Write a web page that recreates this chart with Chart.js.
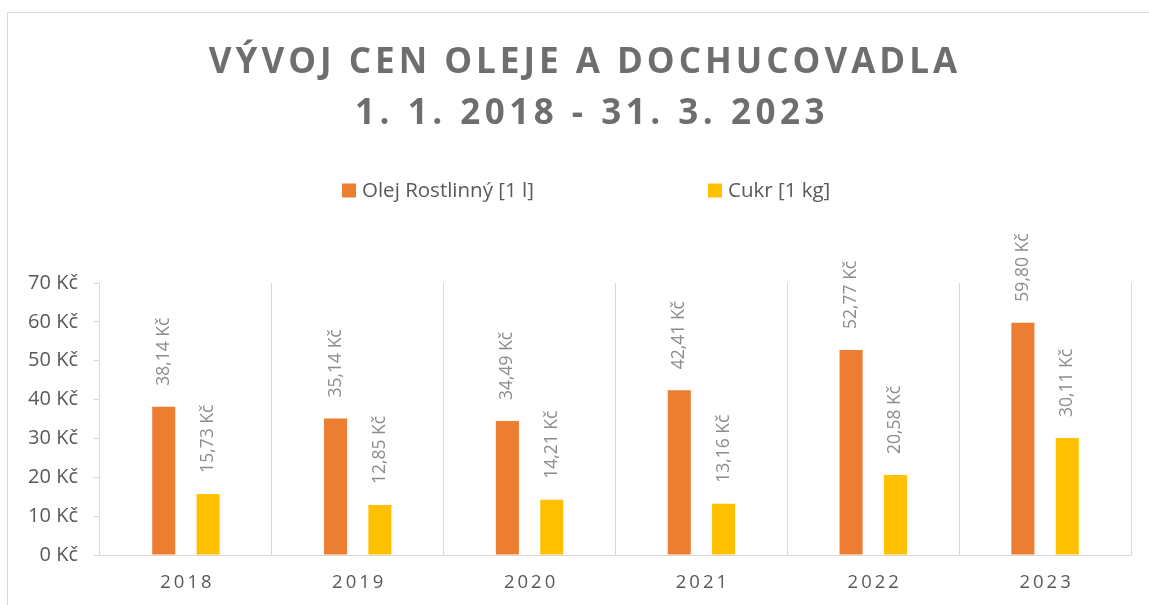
<!DOCTYPE html>
<html><head><meta charset="utf-8">
<script src="https://cdn.jsdelivr.net/npm/chart.js@4.4.0/dist/chart.umd.min.js"></script>
<style>
html,body{margin:0;padding:0;background:#fff;overflow:hidden;width:1149px;height:605px;}
#frame{position:absolute;left:7px;top:12px;width:1300px;height:800px;border-left:1px solid #d9d9d9;border-top:1px solid #d9d9d9;}
#wrap{position:absolute;left:0;top:0;width:1149px;height:605px;}
</style></head><body>
<div id="frame"></div>
<div id="wrap"><canvas id="c" width="1149" height="605"></canvas></div>
<script>
const TITLE_LINES = ['VÝVOJ CEN OLEJE A DOCHUCOVADLA', '1. 1. 2018 - 31. 3. 2023'];
const YEARS = ['2018', '2019', '2020', '2021', '2022', '2023'];
const OIL_LABEL = 'Olej Rostlinný [1 l]';
const OIL = [38.14, 35.14, 34.49, 42.41, 52.77, 59.80];
const SUGAR_LABEL = 'Cukr [1 kg]';
const SUGAR = [15.73, 12.85, 14.21, 13.16, 20.58, 30.11];
const Y_TICKS = [0, 10, 20, 30, 40, 50, 60, 70];

const FONT = '"Open Sans", "DejaVu Sans", sans-serif';
const fmtKc = v => v.toFixed(2).replace('.', ',') + ' Kč';

const headerPlugin = {
  id: 'header',
  afterDraw(chart) {
    const ctx = chart.ctx;
    ctx.save();
    // title
    ctx.font = 'bold 35px ' + FONT;
    ctx.fillStyle = '#6e6e6e';
    ctx.textAlign = 'center';
    ctx.textBaseline = 'alphabetic';
    const baselines = [73, 124];
    const spacings = ['4px', '4.5px'];
    const centers = [585, 592];
    TITLE_LINES.forEach((t, i) => {
      ctx.letterSpacing = spacings[i];
      ctx.fillText(t, centers[i], baselines[i]);
    });
    ctx.letterSpacing = '0px';
    // legend
    const xs = [342, 708];
    ctx.font = '20.5px ' + FONT;
    ctx.textAlign = 'left';
    ctx.textBaseline = 'middle';
    chart.data.datasets.forEach((ds, i) => {
      ctx.fillStyle = ds.backgroundColor;
      ctx.fillRect(xs[i], 183.5, 14, 14);
      ctx.fillStyle = '#595959';
      ctx.fillText(ds.label, xs[i] + 20, 191);
    });
    ctx.restore();
  }
};

const valueLabels = {
  id: 'valueLabels',
  afterDatasetsDraw(chart) {
    const ctx = chart.ctx;
    ctx.save();
    ctx.font = '17.5px ' + FONT;
    ctx.fillStyle = '#8c8c8c';
    ctx.textAlign = 'left';
    ctx.textBaseline = 'middle';
    chart.data.datasets.forEach((ds, di) => {
      const meta = chart.getDatasetMeta(di);
      meta.data.forEach((bar, i) => {
        ctx.save();
        ctx.translate(bar.x, bar.y - 21);
        ctx.rotate(-Math.PI / 2);
        ctx.fillText(fmtKc(ds.data[i]), 0, 0);
        ctx.restore();
      });
    });
    ctx.restore();
  }
};

const spacedXLabels = {
  id: 'spacedXLabels',
  beforeDraw(chart) {
    const s = chart.scales.x;
    if (s && !s.__spaced) {
      const orig = s.drawLabels;
      s.drawLabels = function (area) {
        const ctx = this.ctx;
        ctx.save();
        ctx.letterSpacing = '3px';
        ctx.translate(1.5, 0);
        orig.call(this, area);
        ctx.restore();
      };
      s.__spaced = true;
    }
  }
};

new Chart(document.getElementById('c'), {
  type: 'bar',
  data: {
    labels: YEARS,
    datasets: [
      { label: OIL_LABEL, data: OIL, backgroundColor: '#ED7D31' },
      { label: SUGAR_LABEL, data: SUGAR, backgroundColor: '#FFC000' }
    ]
  },
  options: {
    responsive: false,
    animation: false,
    devicePixelRatio: 1,
    layout: { padding: { top: 283, right: 18, bottom: 0, left: 0 } },
    datasets: { bar: { categoryPercentage: 0.516, barPercentage: 0.52 } },
    plugins: {
      legend: { display: false },
      title: { display: false },
      tooltip: { enabled: false }
    },
    scales: {
      x: {
        grid: { offset: true, color: '#d9d9d9', lineWidth: 1, drawTicks: false },
        border: { display: true, color: '#d9d9d9', width: 1 },
        ticks: { color: '#595959', font: { family: FONT, size: 18.5 }, padding: 17 },
        afterFit(scale) { scale.height = 50; }
      },
      y: {
        min: Y_TICKS[0],
        max: Y_TICKS[Y_TICKS.length - 1],
        afterBuildTicks(scale) { scale.ticks = Y_TICKS.map(v => ({ value: v })); },
        grid: { drawOnChartArea: false, drawTicks: true, tickLength: 7, color: '#d9d9d9' },
        border: { display: false },
        ticks: { color: '#595959', font: { family: FONT, size: 20 }, padding: 15, callback: v => v + ' Kč' },
        afterFit(scale) { scale.width = 100; }
      }
    }
  },
  plugins: [headerPlugin, valueLabels, spacedXLabels]
});
</script>
</body></html>
